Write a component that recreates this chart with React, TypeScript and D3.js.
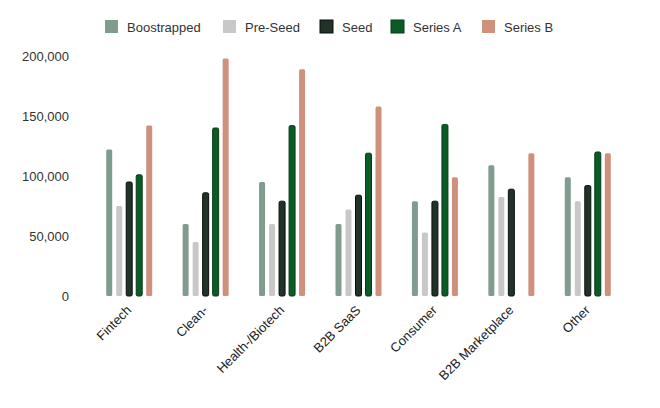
import React, { useEffect, useRef } from 'react';
import * as d3 from 'd3';

const categories = ['Fintech', 'Clean-', 'Health-/Biotech', 'B2B SaaS', 'Consumer', 'B2B Marketplace', 'Other'];
const seriesNames = ['Boostrapped', 'Pre-Seed', 'Seed', 'Series A', 'Series B'];

const boostrapped = [122000, 60000, 95000, 60000, 79000, 109000, 99000];
const preSeed = [75000, 45000, 60000, 72000, 53000, 82500, 79000];
const seed = [95000, 86000, 79000, 84000, 79000, 89000, 92000];
const seriesA = [101000, 140000, 142000, 119000, 143000, 0, 120000];
const seriesB = [142000, 198000, 189000, 158000, 99000, 119000, 119000];

const yTicks = [0, 50000, 100000, 150000, 200000];

const fills = ['#7f9c8f', '#c8c8c8', '#1f3328', '#0b5b26', '#cf907c'];
const strokes = ['none', 'none', '#0a0f0c', '#063d18', 'none'];

const App: React.FC = () => {
  const ref = useRef<SVGSVGElement | null>(null);

  useEffect(() => {
    if (!ref.current) return;
    const svg = d3.select(ref.current);
    svg.selectAll('*').remove();

    const values = [boostrapped, preSeed, seed, seriesA, seriesB];
    const font = 'Liberation Sans, Arial, sans-serif';

    const x0 = d3.scaleBand<string>()
      .domain(categories)
      .range([91, 626])
      .paddingInner(0.385)
      .paddingOuter(0.1925);
    const x1 = d3.scaleBand<number>()
      .domain(d3.range(seriesNames.length))
      .range([0, x0.bandwidth()])
      .paddingInner(0.3);
    const y = d3.scaleLinear().domain([0, 200000]).range([296, 56]);

    // y axis labels (no line, no ticks)
    svg.append('g')
      .selectAll('text')
      .data(yTicks)
      .enter().append('text')
      .attr('x', 69)
      .attr('y', d => y(d))
      .attr('dy', '0.35em')
      .attr('text-anchor', 'end')
      .attr('font-family', font)
      .attr('font-size', 13)
      .attr('fill', '#333')
      .text(d => d3.format(',')(d));

    // bars
    const groups = svg.append('g')
      .selectAll('g')
      .data(categories)
      .enter().append('g')
      .attr('transform', d => `translate(${x0(d)},0)`);

    groups.selectAll('rect')
      .data((_, ci) => values.map((s, si) => ({ si, v: s[ci] })).filter(d => d.v > 0))
      .enter().append('rect')
      .attr('x', d => x1(d.si)! + 0.5)
      .attr('y', d => y(d.v))
      .attr('width', x1.bandwidth() - 1)
      .attr('height', d => y(0) - y(d.v))
      .attr('rx', 1.5)
      .attr('fill', d => fills[d.si])
      .attr('stroke', d => strokes[d.si])
      .attr('stroke-width', 1);

    // x labels
    svg.append('g')
      .selectAll('text')
      .data(categories)
      .enter().append('text')
      .attr('transform', d => `translate(${x0(d)! + x0.bandwidth() / 2 + 3},${311}) rotate(-45)`)
      .attr('text-anchor', 'end')
      .attr('font-family', font)
      .attr('font-size', 13)
      .attr('fill', '#222')
      .text(d => d);

    // legend
    const legendX = [105, 223, 320, 391, 482];
    const legend = svg.append('g')
      .selectAll('g')
      .data(seriesNames)
      .enter().append('g')
      .attr('transform', (_, i) => `translate(${legendX[i]},20)`);
    legend.append('rect')
      .attr('width', 13)
      .attr('height', 13)
      .attr('fill', (_, i) => fills[i])
      .attr('stroke', (_, i) => strokes[i]);
    legend.append('text')
      .attr('x', 22)
      .attr('y', 7)
      .attr('dy', '0.35em')
      .attr('font-family', font)
      .attr('font-size', 13)
      .attr('fill', '#333')
      .text(d => d);
  }, []);

  return (
    <svg
      ref={ref}
      width={660}
      height={408}
      style={{ position: 'absolute', left: 0, top: 0, background: '#fff' }}
    />
  );
};

export default App;
